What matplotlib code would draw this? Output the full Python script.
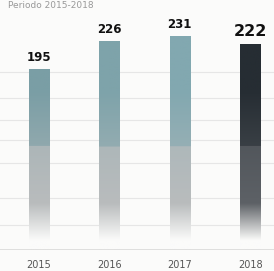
import numpy as np
import matplotlib
matplotlib.use("Agg")
import matplotlib.pyplot as plt
from matplotlib.colors import to_rgb

years = ["2015", "2016", "2017", "2018"]
values = [195, 226, 231, 222]
top_colors = ["#7a9ea5", "#7ea3aa", "#82a8b0", "#262d33"]
low_colors = ["#b9bcbd", "#b9bcbd", "#b9bcbd", "#5d6166"]
title = "Periodo 2015-2018"

fig = plt.figure(figsize=(2.74, 2.71), dpi=100)
fig.patch.set_facecolor("#fbfbfa")
ax = fig.add_axes([0, 21 / 271, 1, 242 / 271])
ax.set_facecolor("#fbfbfa")

x = np.arange(len(years))
ax.set_xlim(-0.555, 3.34)
ax.set_ylim(0, 262)
w = 0.285

# faint background rules
for gy in [27, 56, 94, 119, 141, 165, 193]:
    ax.axhline(gy, color="#e6e6e6", lw=0.8, zorder=0)

n = 200
for xi, v, tc, lc in zip(x, values, top_colors, low_colors):
    ys = np.linspace(0, v, n)
    tc = np.array(to_rgb(tc)); lc = np.array(to_rgb(lc)); wc = np.array(to_rgb("#fbfbfa"))
    img = np.zeros((n, 1, 3))
    for i, yv in enumerate(ys):
        if yv >= 112:
            t = min(1, (yv - 112) / 60)
            c = lc * 0.35 * (1 - t) + tc * (0.65 + 0.35 * t)
        elif yv >= 50:
            t = (yv - 50) / 62
            c = lc * (1 - t * 0.2) + tc * 0.2 * t
        else:
            t = max(0, (yv - 10) / 40)
            c = wc * (1 - t) + lc * t
        img[i, 0] = c
    ax.imshow(img, origin="lower", aspect="auto",
              extent=[xi - w / 2, xi + w / 2, 0, v], zorder=2, interpolation="bilinear")
    big = (xi == 3)
    ax.text(xi, v + 6, str(v), ha="center", va="bottom",
            fontsize=11.5 if big else 8.5, fontweight="bold", color="#111111",
            family=["Liberation Sans Narrow", "DejaVu Sans"], zorder=3)

ax.axhline(0, color="#6e6e6e", lw=1.0, zorder=3)
for s in ax.spines.values():
    s.set_visible(False)
ax.set_xticks(x)
ax.set_xticklabels(years, fontsize=7, color="#555555")
ax.tick_params(axis="x", length=0, pad=7)
ax.set_yticks([])

fig.text(0.03, 0.997, title, ha="left", va="top", fontsize=6.5, color="#999999")

fig.savefig("out.png", dpi=100, facecolor=fig.get_facecolor())
